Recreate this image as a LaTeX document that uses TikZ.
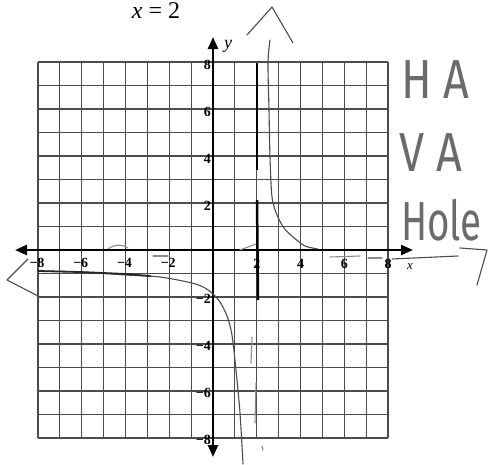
\documentclass[tikz,border=0pt]{standalone}
\usepackage{fontspec}
\setmainfont{Liberation Serif}
\newfontfamily\hand{Fira Sans}
\usetikzlibrary{arrows.meta}
\tikzset{
  gridln/.style={black!70, line width=1.1pt},
  axisln/.style={black, line width=2.4pt, -{Triangle[length=12pt,width=10pt]}},
  ticklbl/.style={font=\bfseries\fontsize{14}{14}\selectfont, inner sep=0pt},
  axlbl/.style={font=\itshape\fontsize{#1}{#1}\selectfont, inner sep=0pt},
  pencil/.style={black!70, line width=1.1pt, line cap=round, line join=round},
  faint/.style={pencil, black!45},
  asym/.style={black, line width=2.5pt},
  handtxt/.style={font=\hand\fontsize{55}{55}\selectfont, text=black!58, inner sep=0pt, anchor=base west},
}
\begin{document}
\begin{tikzpicture}[x=1pt,y=-1pt]
\useasboundingbox (0,0) rectangle (488,464);
\fill[white] (0,0) rectangle (488,464);
% grid
\foreach \i in {0,...,16} {
  \draw[gridln] ({38+\i*21.875},62) -- ({38+\i*21.875},438);
  \draw[gridln] (38,{62+\i*23.5}) -- (388,{62+\i*23.5});
}
% axes
\coordinate (o) at (213,250);
\coordinate (xl) at (15,250);
\coordinate (xr) at (413,250);
\coordinate (yt) at (213,37);
\coordinate (yb) at (213,457);
\draw[axisln] (o) -- (xr);
\draw[axisln] (o) -- (xl);
\draw[axisln] (o) -- (yt);
\draw[axisln] (o) -- (yb);
\node[axlbl=18] (ylab) at (228,46) {y};
\node[axlbl=13] (xlab) at (410,267) {x};
% tick labels
\foreach \v in {2,4,6,8} {
  \node[ticklbl, anchor=east] (lyp\v) at (211,{250-\v*23.5+3}) {\v};
  \node[ticklbl, anchor=east] (lyn\v) at (211,{250+\v*23.5+2}) {−\v};
  \node[ticklbl] (lxp\v) at ({213+\v*21.875},264) {\v};
  \node[ticklbl] (lxn\v) at ({213-\v*21.875-1},263) {−\v};
}
% title
\node[font=\fontsize{24}{24}\selectfont, anchor=base, inner sep=0pt] (title) at (156,18) {{\itshape x} = 2};
% vertical asymptote x = 2
\draw[asym] (257,63) -- (257,170);
\draw[asym] (257,200) -- (258,300);
\draw[faint] (252,337) -- (251,363);
\draw[faint] (256,383) -- (255,423);
\draw[faint] (262,446) -- (263,450);
% hand-drawn branches
\draw[pencil] plot[smooth] coordinates {(270,40) (268,63) (269,110) (270,157) (272,197) (277,215) (284,228) (293,237) (305,246) (318,249)};
\draw[pencil] plot[smooth] coordinates {(38,271) (80,272) (126,275) (160,277) (192,283) (205,288) (213,294) (220,302) (227,316) (232,335) (236,370) (240,413) (243,464)};
\draw[pencil, line width=1.8pt, black!85] (38,271) -- (80,272) -- (126,274) -- (150,276);
% caret and bracket
\draw[pencil] (247,35) -- (272,7) -- (293,43);
\draw[pencil] (28,259) -- (7,280) -- (40,297);
% small pencil marks
\draw[faint] (108,249) .. controls (115,244) and (122,244) .. (128,248);
\draw[faint] (153,256) -- (168,256);
\draw[faint] (240,250) -- (256,244);
\draw[faint] (330,257) -- (360,256);
\draw[faint] (368,258) -- (382,258);
\draw[pencil] (392,259) -- (458,256);
\draw[pencil] (460,248) -- (487,250) -- (477,285);
% handwritten notes
\node[handtxt] (ha) at (401,98) {\scalebox{0.82}[1]{H A}};
\node[handtxt] (va) at (399,171) {\scalebox{0.82}[1]{V A}};
\node[handtxt] (hole) at (401,240) {\scalebox{0.7}[1]{Hole}};
\end{tikzpicture}
\end{document}
